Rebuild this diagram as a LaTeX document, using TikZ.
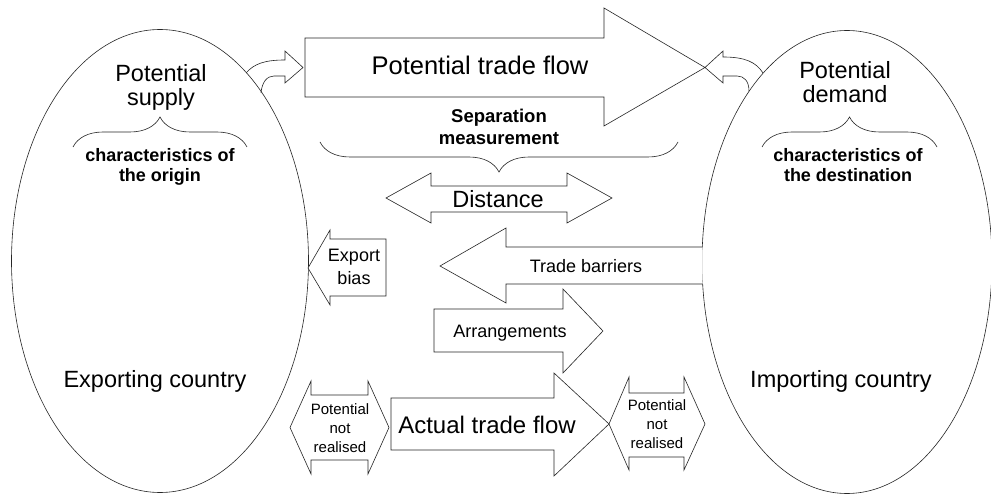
\documentclass[tikz,border=0pt]{standalone}
\usepackage{fontspec}
\setmainfont{Liberation Sans}
\usetikzlibrary{decorations.pathreplacing}
\begin{document}
\begin{tikzpicture}[x=1pt,y=-1pt,
  shp/.style={draw=black!85, line width=0.6pt, fill=white, line join=miter},
  outl/.style={draw=black!85, line width=0.6pt},
  brc/.style={draw=black!85, line width=0.6pt, decorate, decoration={brace, amplitude=#1}},
  lbl/.style={inner sep=0pt, align=center},
  big/.style={lbl, font=\fontsize{23.5}{24}\selectfont},
  huge/.style={lbl, font=\fontsize{25.5}{27}\selectfont},
  bld/.style={lbl, font=\fontsize{18}{20}\selectfont\bfseries},
  mid/.style={lbl, font=\fontsize{18}{23}\selectfont},
  sml/.style={lbl, font=\fontsize{15}{19}\selectfont}
]
\useasboundingbox (0,0) rectangle (991,494);
\fill[white] (0,0) rectangle (991,494);

% potential trade flow
\draw[shp] (305,38) -- (604,38) -- (604,8) -- (705,67.5) -- (604,126) -- (604,97) -- (305,97) -- cycle;

% curved arrows
\draw[outl] (246,73) .. controls (254,64) and (264,60) .. (285,60) -- (285,51) -- (303,67.5) -- (285,83) -- (285,76) -- (274,76) .. controls (267,76) and (262,82) .. (261,93);
\draw[outl] (763,73) .. controls (756,62) and (745,57) .. (723,57) -- (723,51) -- (705,67.5) -- (723,83) -- (723,76) -- (737,76) .. controls (744,76) and (749,81) .. (749,91);

% countries
\draw[outl] (160,261) ellipse [x radius=148.5pt, y radius=231.5pt];
\draw[outl] (847,262) ellipse [x radius=145pt, y radius=231.5pt];

% distance
\draw[shp] (386,198) -- (431,173) -- (431,186) -- (567,186) -- (567,173) -- (612,198) -- (567,223) -- (567,212) -- (431,212) -- (431,223) -- cycle;

% export bias
\draw[shp] (308,268) -- (330,230) -- (330,239) -- (386,239) -- (386,296) -- (330,296) -- (330,305) -- cycle;

% trade barriers
\draw[shp] (702.5,247) -- (506,247) -- (506,228) -- (440,266) -- (506,303) -- (506,284) -- (702.5,284);

% arrangements
\draw[shp] (434,309) -- (563,309) -- (563,289) -- (603,331) -- (563,373) -- (563,352) -- (434,352) -- cycle;

% potential not realised (left)
\draw[shp] (290,427.5) -- (311,381) -- (311,395) -- (368,395) -- (368,381) -- (389,427.5) -- (368,474) -- (368,460) -- (311,460) -- (311,474) -- cycle;

% actual trade flow
\draw[shp] (391,398) -- (554,398) -- (554,373) -- (609,424) -- (554,476) -- (554,450) -- (391,450) -- cycle;

% potential not realised (right)
\draw[shp] (609,424) -- (629,377) -- (629,393) -- (684,393) -- (684,377) -- (705,424) -- (684,470) -- (684,457) -- (629,457) -- (629,470) -- cycle;

% braces
\draw[brc=30pt] (73,147) -- (247,147);
\draw[brc=30pt] (762,147) -- (937,147);
\draw[brc=30pt] (678,142) -- (320,142);

% texts
\node[big] (psup) at (161,87) {Potential\\supply};
\node[bld] (corig) at (160,167.3) {characteristics of\\the origin};
\node[big, anchor=base] (expc) at (155,388) {Exporting country};
\node[big] (pdem) at (845,82) {Potential\\demand};
\node[bld] (cdest) at (848,165.5) {characteristics of\\the destination};
\node[big, anchor=base] (impc) at (841,388) {Importing country};
\node[huge, anchor=base] (ptft) at (480,75) {Potential trade flow};
\node[bld, font=\fontsize{18.5}{22}\selectfont\bfseries] (sepm) at (499,127.3) {Separation\\measurement};
\node[big, anchor=base] (dist) at (498,207.5) {Distance};
\node[mid] (expb) at (354,267) {Export\\bias};
\node[mid, anchor=base] (trb) at (586,273) {Trade barriers};
\node[mid, anchor=base] (arrg) at (510,338) {Arrangements};
\node[big, font=\fontsize{24}{26}\selectfont, anchor=base] (atft) at (487,433) {Actual trade flow};
\node[sml] (pnra) at (340,428) {Potential\\not\\realised};
\node[sml] (pnrb) at (657,424) {Potential\\not\\realised};
\end{tikzpicture}
\end{document}
